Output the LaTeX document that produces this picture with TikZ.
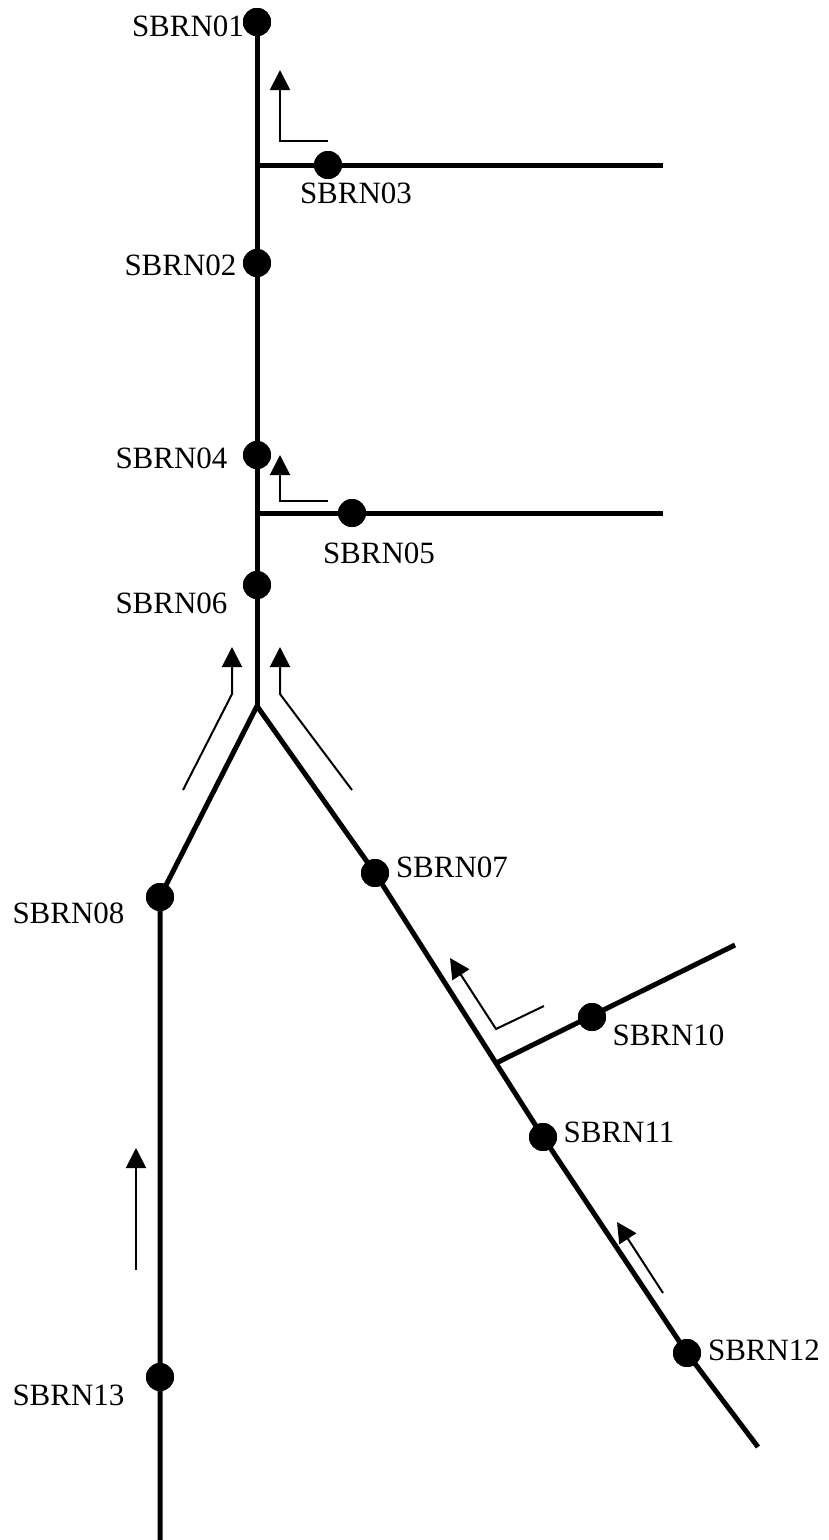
\documentclass[tikz,border=0pt]{standalone}
\usepackage{fontspec}
\setmainfont{Liberation Serif}
\usetikzlibrary{arrows.meta,calc}
\begin{document}
\begin{tikzpicture}[x=1pt,y=-1pt,
  dot/.style={circle,fill=black,draw=none,minimum size=28pt,inner sep=0pt},
  lbl/.style={inner sep=0pt,font=\fontsize{31}{31}\selectfont},
  main/.style={line width=5pt},
  flow/.style={line width=2pt,-{Triangle[width=20pt,length=20pt]}}]
\useasboundingbox (0,0) rectangle (828,1540);
% junction / end coordinates
\coordinate (fork) at (257,706);
\coordinate (j1) at (257,165);
\coordinate (j2) at (257,513);
\coordinate (e1) at (663,165);
\coordinate (e2) at (663,513);
\coordinate (e3) at (160,1540);
\coordinate (e4) at (758,1447);
\coordinate (e5) at (735,945);
% dots
\node[dot] (n01) at (257,22) {};
\node[dot] (n02) at (257,263) {};
\node[dot] (n03) at (328,165) {};
\node[dot] (n04) at (257,455) {};
\node[dot] (n05) at (352,513) {};
\node[dot] (n06) at (257,585) {};
\node[dot] (n07) at (375,873) {};
\node[dot] (n08) at (160,897) {};
\node[dot] (n10) at (592,1017) {};
\node[dot] (n11) at (543,1137) {};
\node[dot] (n12) at (687,1353) {};
\node[dot] (n13) at (160,1377) {};
\coordinate (j3) at ($(n07.center)!0.72!(n11.center)$);
% lines
\draw[main] (n01.center) -- (fork);
\draw[main] (j1) -- (e1);
\draw[main] (j2) -- (e2);
\draw[main,line join=miter] (fork) -- (n08.center) -- (e3);
\draw[main,line join=round] (fork) -- (n07.center) -- (n11.center) -- (n12.center) -- (e4);
\draw[main] (j3) -- (e5);
% redraw dots on top
\foreach \n in {n01,n02,n03,n04,n05,n06,n07,n08,n10,n11,n12,n13}
  \fill (\n.center) circle (14pt);
% flow arrows
\coordinate (a1s) at (328,141); \coordinate (a1m) at (280,141); \coordinate (a1t) at (280,70);
\draw[flow] (a1s) -- (a1m) -- (a1t);
\coordinate (a2s) at (328,501); \coordinate (a2m) at (280,501); \coordinate (a2t) at (280,455);
\draw[flow] (a2s) -- (a2m) -- (a2t);
\coordinate (a3s) at (183,790); \coordinate (a3m) at (232,694); \coordinate (a3t) at (232,647);
\draw[flow] (a3s) -- (a3m) -- (a3t);
\coordinate (a4s) at (352,790); \coordinate (a4m) at (280,694); \coordinate (a4t) at (280,647);
\draw[flow] (a4s) -- (a4m) -- (a4t);
\coordinate (a5s) at (544,1006); \coordinate (a5m) at (496,1029); \coordinate (a5t) at (450,958);
\draw[flow] (a5s) -- (a5m) -- (a5t);
\coordinate (a6s) at (663,1293); \coordinate (a6t) at (617,1222);
\draw[flow] (a6s) -- (a6t);
\coordinate (a7s) at (136,1270); \coordinate (a7t) at (136,1148);
\draw[flow] (a7s) -- (a7t);
% labels
\node[lbl] (l01) at (188,26) {SBRN01};
\node[lbl] (l02) at (180.5,265) {SBRN02};
\node[lbl] (l03) at (356,193) {SBRN03};
\node[lbl] (l04) at (171.5,458) {SBRN04};
\node[lbl] (l05) at (379,553) {SBRN05};
\node[lbl] (l06) at (171.5,603) {SBRN06};
\node[lbl] (l07) at (452,867) {SBRN07};
\node[lbl] (l08) at (68.5,913) {SBRN08};
\node[lbl] (l10) at (668.5,1035) {SBRN10};
\node[lbl] (l11) at (619,1132) {SBRN11};
\node[lbl] (l12) at (764,1350) {SBRN12};
\node[lbl] (l13) at (68.5,1395) {SBRN13};
\fill (n01.center) circle (14pt);
\end{tikzpicture}
\end{document}
